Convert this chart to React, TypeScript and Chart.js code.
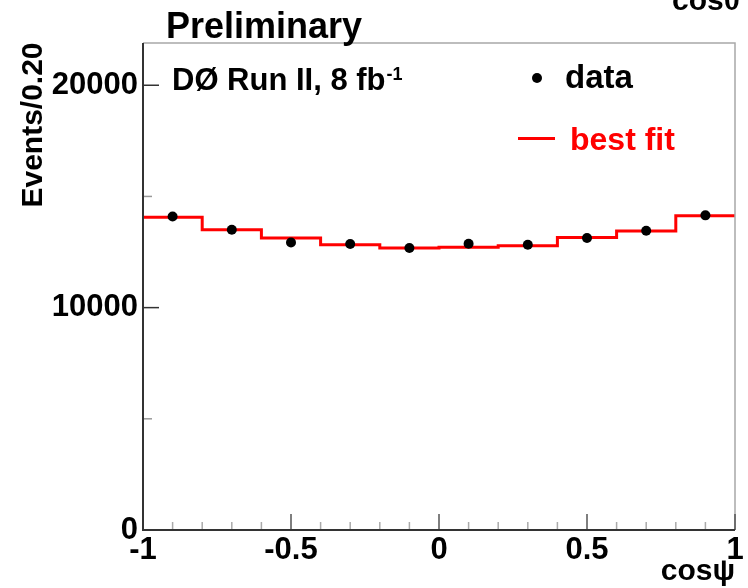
import React, { useEffect, useRef } from "react";
import { Chart, registerables } from "chart.js";

Chart.register(...registerables);

// ---- data ----
const binEdges = [-1, -0.8, -0.6, -0.4, -0.2, 0, 0.2, 0.4, 0.6, 0.8, 1];
const binCenters = [-0.9, -0.7, -0.5, -0.3, -0.1, 0.1, 0.3, 0.5, 0.7, 0.9];
const dataValues = [14100, 13500, 12930, 12860, 12680, 12870, 12830, 13130, 13460, 14150];
const fitValues = [14060, 13500, 13130, 12830, 12680, 12720, 12780, 13150, 13450, 14130];

// ---- axes ----
const xTickValues = [-1, -0.9, -0.8, -0.7, -0.6, -0.5, -0.4, -0.3, -0.2, -0.1, 0, 0.1, 0.2, 0.3, 0.4, 0.5, 0.6, 0.7, 0.8, 0.9, 1];
const xMajorTicks = [-1, -0.5, 0, 0.5, 1];
const xTickLabels = ["-1", "-0.5", "0", "0.5", "1"];
const yTickValues = [0, 5000, 10000, 15000, 20000];
const yMajorTicks = [0, 10000, 20000];
const yTickLabels = ["0", "10000", "20000"];
const X_MIN = -1;
const X_MAX = 1;
const Y_MIN = 0;
const Y_MAX = 21900;

const FONT = "'Liberation Sans', Arial, Helvetica, sans-serif";

function majorIndex(v: number, majors: number[]): number {
  for (let i = 0; i < majors.length; i++) {
    if (Math.abs(v - majors[i]) < 1e-6 * Math.max(1, Math.abs(majors[i]))) return i;
  }
  return -1;
}

const decorPlugin = {
  id: "decor",
  afterDatasetsDraw(chart: any) {
    const { ctx, chartArea: a, scales } = chart;
    const x = scales.x;
    const y = scales.y;
    ctx.save();
    // top & right frame
    ctx.strokeStyle = "#a8a8a8";
    ctx.lineWidth = 1.5;
    ctx.beginPath();
    ctx.moveTo(a.left, a.top);
    ctx.lineTo(a.right, a.top);
    ctx.lineTo(a.right, a.bottom);
    ctx.stroke();
    // x ticks (inside)
    x.ticks.forEach((t: any) => {
      const px = x.getPixelForValue(t.value);
      const major = majorIndex(t.value, xMajorTicks) >= 0;
      ctx.strokeStyle = major ? "#555" : "#aaa";
      ctx.lineWidth = 1.5;
      ctx.beginPath();
      ctx.moveTo(px, a.bottom);
      ctx.lineTo(px, a.bottom - (major ? 16 : 8));
      ctx.stroke();
    });
    // y ticks (inside)
    y.ticks.forEach((t: any) => {
      const py = y.getPixelForValue(t.value);
      const major = majorIndex(t.value, yMajorTicks) >= 0;
      ctx.strokeStyle = major ? "#333" : "#999";
      ctx.lineWidth = 1.5;
      ctx.beginPath();
      ctx.moveTo(a.left, py);
      ctx.lineTo(a.left + (major ? 16 : 9), py);
      ctx.stroke();
    });
    // left & bottom axis lines
    ctx.strokeStyle = "#333";
    ctx.lineWidth = 2;
    ctx.beginPath();
    ctx.moveTo(a.left, a.top);
    ctx.lineTo(a.left, a.bottom);
    ctx.lineTo(a.right, a.bottom);
    ctx.stroke();
    ctx.restore();
  },
  afterDraw(chart: any) {
    const { ctx, chartArea: a } = chart;
    const ds = chart.data.datasets;
    ctx.save();
    ctx.textBaseline = "alphabetic";

    // Preliminary
    ctx.fillStyle = "#000";
    ctx.font = `bold 36px ${FONT}`;
    ctx.textAlign = "left";
    ctx.fillText("Preliminary", 166, 38);

    // cut-off text at top right
    ctx.font = `bold 30px ${FONT}`;
    ctx.fillText("cosθ", 672, 10);

    // experiment label
    ctx.font = `bold 31px ${FONT}`;
    const main = "DØ Run II, 8 fb";
    ctx.fillText(main, 172, 90);
    const w = ctx.measureText(main).width;
    ctx.font = `bold 18px ${FONT}`;
    ctx.fillText("-1", 172 + w + 1, 80);

    // legend: data
    const dataDs = ds[1];
    ctx.fillStyle = dataDs.backgroundColor;
    ctx.beginPath();
    ctx.arc(537, 78, dataDs.pointRadius, 0, Math.PI * 2);
    ctx.fill();
    ctx.fillStyle = "#000";
    ctx.font = `bold 33px ${FONT}`;
    ctx.fillText(dataDs.label, 565, 88);

    // legend: best fit
    const fitDs = ds[0];
    ctx.strokeStyle = fitDs.borderColor;
    ctx.lineWidth = fitDs.borderWidth;
    ctx.beginPath();
    ctx.moveTo(518, 138.5);
    ctx.lineTo(555, 138.5);
    ctx.stroke();
    ctx.fillStyle = fitDs.borderColor;
    ctx.font = `bold 32px ${FONT}`;
    ctx.fillText(fitDs.label, 570, 150);

    // x axis title
    ctx.fillStyle = "#000";
    ctx.font = `bold 30px ${FONT}`;
    ctx.textAlign = "right";
    ctx.fillText("cosψ", a.right, 580);

    // y axis title
    ctx.translate(42, 125);
    ctx.rotate(-Math.PI / 2);
    ctx.textAlign = "center";
    ctx.font = `bold 30px ${FONT}`;
    ctx.fillText("Events/0.20", 0, 0);
    ctx.restore();
  },
};

export default function App() {
  const ref = useRef<HTMLCanvasElement | null>(null);
  useEffect(() => {
    if (!ref.current) return;
    const fitPoints = binEdges.slice(0, -1).map((e, i) => ({ x: e, y: fitValues[i] }));
    fitPoints.push({ x: binEdges[binEdges.length - 1], y: fitValues[fitValues.length - 1] });
    const dataPoints = binCenters.map((c, i) => ({ x: c, y: dataValues[i] }));

    const chart = new Chart(ref.current, {
      type: "scatter",
      data: {
        datasets: [
          {
            type: "line",
            label: "best fit",
            data: fitPoints,
            stepped: true,
            borderColor: "#ff0000",
            backgroundColor: "#ff0000",
            borderWidth: 3,
            pointRadius: 0,
            fill: false,
            order: 1,
          } as any,
          {
            type: "scatter",
            label: "data",
            data: dataPoints,
            backgroundColor: "#000000",
            borderColor: "#000000",
            pointRadius: 5,
            pointBorderWidth: 0,
            order: 0,
          } as any,
        ],
      },
      options: {
        animation: false,
        responsive: true,
        maintainAspectRatio: false,
        layout: { padding: { left: 0, right: 13, top: 43, bottom: 0 } },
        plugins: {
          legend: { display: false },
          tooltip: { enabled: false },
          title: { display: false },
        },
        scales: {
          x: {
            type: "linear",
            min: X_MIN,
            max: X_MAX,
            grid: { display: false, drawTicks: false },
            border: { display: false },
            afterBuildTicks: (s: any) => {
              s.ticks = xTickValues.map((v) => ({ value: v }));
            },
            afterFit: (s: any) => {
              s.height = 58;
            },
            ticks: {
              autoSkip: false,
              maxRotation: 0,
              padding: 2,
              color: "#000",
              font: { family: FONT, size: 31, weight: "bold" },
              callback: (v: any) => {
                const i = majorIndex(Number(v), xMajorTicks);
                return i >= 0 ? xTickLabels[i] : "";
              },
            },
          },
          y: {
            type: "linear",
            min: Y_MIN,
            max: Y_MAX,
            grid: { display: false, drawTicks: false },
            border: { display: false },
            afterBuildTicks: (s: any) => {
              s.ticks = yTickValues.map((v) => ({ value: v }));
            },
            afterFit: (s: any) => {
              s.width = 143;
            },
            ticks: {
              autoSkip: false,
              padding: 5,
              color: "#000",
              font: { family: FONT, size: 31, weight: "bold" },
              callback: (v: any) => {
                const i = majorIndex(Number(v), yMajorTicks);
                return i >= 0 ? yTickLabels[i] : "";
              },
            },
          },
        },
      },
      plugins: [decorPlugin],
    } as any);
    return () => chart.destroy();
  }, []);

  return (
    <div style={{ position: "absolute", left: 0, top: 0, width: 748, height: 588, background: "#fff" }}>
      <canvas ref={ref} />
    </div>
  );
}
